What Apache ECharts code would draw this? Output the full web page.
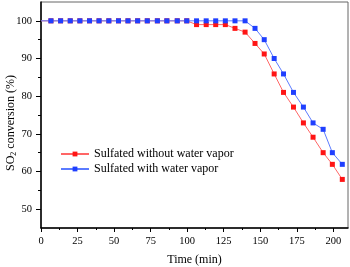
<!DOCTYPE html>
<html>
<head>
<meta charset="utf-8">
<script src="https://cdn.jsdelivr.net/npm/echarts@6/dist/echarts.min.js"></script>
<style>html,body{margin:0;padding:0;background:#fff}#c{width:350px;height:267px}</style>
</head>
<body>
<div id="c"></div>
<script>
const times = [0, 6.8, 13.4, 20.0, 26.6, 33.2, 39.7, 46.4, 53.0, 59.5, 66.1, 72.7, 79.6, 86.1, 93.2, 99.7, 106.4, 113.0, 119.5, 126.1, 132.7, 139.6, 146.4, 152.7, 159.5, 165.9, 172.7, 179.5, 186.1, 193.0, 199.3, 206.1];
const withoutVapor = [100,100,100,100,100,100,100,100,100,100,100,100,100,100,100,100, 99, 99, 99, 99, 98, 97, 94, 91.2, 85.9, 81, 77.1, 72.9, 69.1, 65, 61.9, 57.9];
const withVapor = [100,100,100,100,100,100,100,100,100,100,100,100,100,100,100,100,100,100,100,100,100,100, 98, 95, 90, 85.9, 81, 77.1, 72.9, 71.2, 65, 61.9];
const seriesNames = ['Sulfated without water vapor', 'Sulfated with water vapor'];
const xMajor = [0, 25, 50, 75, 100, 125, 150, 175, 200];
const xMinor = [12.5, 37.5, 62.5, 87.5, 112.5, 137.5, 162.5, 187.5];
const yMajor = [50, 60, 70, 80, 90, 100];
const yMinor = [55, 65, 75, 85, 95];

function pts(vals){
  return vals.map((v,i)=> i===0 ? {value:[times[i], v], symbol:'none'} : [times[i], v]);
}
const serif = '"Liberation Serif", "Times New Roman", serif';
const chart = echarts.init(document.getElementById('c'), null, {renderer:'canvas'});
chart.setOption({
  animation: false,
  grid: {left: 41, right: 2, top: 2, bottom: 39, show: true, borderColor: '#666', borderWidth: 1,
         containLabel: false, outerBoundsMode: 'none'},
  legend: {
    left: 60, top: 148, padding: 0, orient: 'vertical', itemGap: 3, itemWidth: 28, itemHeight: 6,
    textStyle: {fontFamily: serif, fontSize: 12, color: '#000'},
    data: seriesNames
  },
  xAxis: [{
    type: 'value', min: 0, max: 210,
    name: 'Time (min)', nameLocation: 'middle', nameGap: 26, nameMoveOverlap: false,
    nameTextStyle: {fontFamily: serif, fontSize: 12, color: '#000'},
    axisLine: {lineStyle: {color: '#000', width: 1.5}},
    axisTick: {show: true, length: 4, customValues: xMajor, lineStyle: {color: '#000'}},
    axisLabel: {customValues: xMajor, fontFamily: serif, fontSize: 10.5, color: '#000', margin: 8},
    splitLine: {show: false}
  }, {
    type: 'value', min: 0, max: 210, position: 'bottom',
    axisLine: {show: false},
    axisTick: {show: true, length: 2, customValues: xMinor, lineStyle: {color: '#000'}},
    axisLabel: {show: false}, splitLine: {show: false}
  }],
  yAxis: [{
    type: 'value', min: 45, max: 105,
    name: 'SO{s|2} conversion (%)', nameLocation: 'middle', nameGap: 23, nameMoveOverlap: false,
    nameTextStyle: {fontFamily: serif, fontSize: 12, color: '#000', padding: [0, 16, 0, 0],
      rich: {s: {fontFamily: serif, fontSize: 8, color: '#000', padding: [6, 0, 0, 0]}}},
    axisLine: {lineStyle: {color: '#000', width: 1.5}},
    axisTick: {show: true, length: 5, customValues: yMajor, lineStyle: {color: '#000'}},
    axisLabel: {customValues: yMajor, fontFamily: serif, fontSize: 10.5, color: '#000', margin: 9},
    splitLine: {show: false}
  }, {
    type: 'value', min: 45, max: 105, position: 'left',
    axisLine: {show: false},
    axisTick: {show: true, length: 3, customValues: yMinor, lineStyle: {color: '#000'}},
    axisLabel: {show: false}, splitLine: {show: false}
  }],
  series: [{
    name: seriesNames[0], type: 'line', data: pts(withoutVapor), z: 2,
    symbol: 'rect', symbolSize: 5, showSymbol: true,
    lineStyle: {color: '#ff6666', width: 1}, itemStyle: {color: '#ff1414'}
  }, {
    name: seriesNames[1], type: 'line', data: pts(withVapor), z: 3,
    symbol: 'rect', symbolSize: 5, showSymbol: true,
    lineStyle: {color: '#5b7bff', width: 1}, itemStyle: {color: '#1f3fff'}
  }]
});
</script>
</body>
</html>
